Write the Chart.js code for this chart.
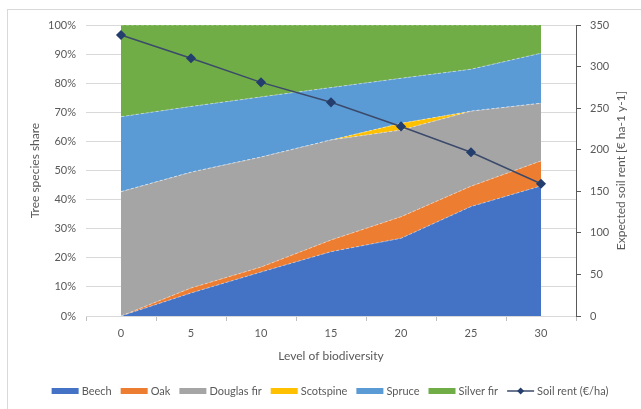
<!DOCTYPE html>
<html lang="en">
<head>
<meta charset="UTF-8">
<title>Tree species share and soil rent</title>
<script src="https://cdn.jsdelivr.net/npm/chart.js"></script>
<style>
    body { margin: 0; background: #fff; }
    canvas { display: block; }
</style>
</head>
<body>
<canvas id="chart" width="641" height="409"></canvas>
<script>
const levels = ['0', '5', '10', '15', '20', '25', '30'];
const beech = [0, 7.9, 15.1, 22.1, 26.7, 37.6, 44.7];
const oak = [0, 1.7, 1.7, 4.0, 7.4, 7.0, 8.6];
const douglasFir = [42.7, 39.8, 37.8, 34.4, 29.8, 25.8, 19.8];
const scotsPine = [0, 0, 0, 0, 2.3, 0, 0];
const spruce = [25.8, 22.6, 20.7, 18.0, 15.5, 14.4, 17.2];
const silverFir = [31.5, 28.0, 24.7, 21.5, 18.3, 15.2, 9.7];
const soilRent = [338, 310, 281, 257, 228, 197, 159];

const textColor = '#595959';
const fontFamily = 'Lato, "Liberation Sans", sans-serif';

function area(label, data, color, first) {
    return {
        label: label,
        data: data,
        backgroundColor: color,
        borderColor: 'rgba(255,255,255,0.55)',
        borderWidth: 0.8,
        borderDash: [3, 2],
        pointRadius: 0,
        tension: 0,
        fill: first ? 'origin' : '-1',
        yAxisID: 'y',
        order: 1
    };
}

// frame, right axis title and legend like the excel original
const extras = {
    id: 'extras',
    beforeDraw(chart) {
        const ctx = chart.ctx;
        ctx.save();
        ctx.fillStyle = '#fff';
        ctx.fillRect(0, 0, chart.width, chart.height);
        ctx.strokeStyle = '#d9d9d9';
        ctx.lineWidth = 1;
        ctx.strokeRect(7.5, 9.5, 700, 500);
        ctx.restore();
    },
    afterDraw(chart) {
        const ctx = chart.ctx;
        ctx.save();
        ctx.fillStyle = textColor;
        ctx.font = '12px ' + fontFamily;
        ctx.textAlign = 'center';
        ctx.textBaseline = 'middle';
        const a = chart.chartArea;
        ctx.translate(621, (a.top + a.bottom) / 2);
        ctx.rotate(-Math.PI / 2);
        ctx.fillText('Expected soil rent [€ ha-1 y-1]', 0, 0);
        ctx.restore();

        // legend
        ctx.save();
        ctx.font = '11px ' + fontFamily;
        ctx.textBaseline = 'middle';
        ctx.textAlign = 'left';
        const boxW = 27, textGap = 3, gap = 9;
        const items = chart.data.datasets.map(ds => ({
            ds: ds,
            w: boxW + textGap + ctx.measureText(ds.label).width
        }));
        const total = items.reduce((s, it) => s + it.w, 0) + gap * (items.length - 1);
        let x = 330 - total / 2;
        const y = 391;
        items.forEach(it => {
            const ds = it.ds;
            if (ds.yAxisID === 'y1') {
                ctx.strokeStyle = ds.borderColor;
                ctx.lineWidth = 1.5;
                ctx.beginPath();
                ctx.moveTo(x, y);
                ctx.lineTo(x + boxW, y);
                ctx.stroke();
                ctx.fillStyle = ds.pointBackgroundColor;
                const cx = x + boxW / 2;
                ctx.beginPath();
                ctx.moveTo(cx, y - 3.5);
                ctx.lineTo(cx + 3.5, y);
                ctx.lineTo(cx, y + 3.5);
                ctx.lineTo(cx - 3.5, y);
                ctx.closePath();
                ctx.fill();
            } else {
                ctx.fillStyle = ds.backgroundColor;
                ctx.fillRect(x, y - 3, boxW, 6);
            }
            ctx.fillStyle = textColor;
            ctx.fillText(ds.label, x + boxW + textGap, y + 0.5);
            x += it.w + gap;
        });
        ctx.restore();
    }
};

new Chart(document.getElementById('chart'), {
    type: 'line',
    data: {
        labels: levels,
        datasets: [
            area('Beech', beech, '#4472c4', true),
            area('Oak', oak, '#ed7d31'),
            area('Douglas fir', douglasFir, '#a5a5a5'),
            area('Scotspine', scotsPine, '#ffc000'),
            area('Spruce', spruce, '#5b9bd5'),
            area('Silver fir', silverFir, '#70ad47'),
            {
                label: 'Soil rent (€/ha)',
                data: soilRent,
                yAxisID: 'y1',
                borderColor: '#3b4a6b',
                borderWidth: 1.5,
                pointStyle: 'rectRot',
                pointRadius: 4,
                pointBackgroundColor: '#243f6e',
                pointBorderColor: '#243f6e',
                fill: false,
                tension: 0,
                order: 0
            }
        ]
    },
    options: {
        responsive: false,
        animation: false,
        devicePixelRatio: 1,
        layout: { padding: { top: 25, bottom: 41, left: 0, right: 0 } },
        plugins: {
            legend: { display: false },
            tooltip: { enabled: false }
        },
        scales: {
            x: {
                offset: true,
                grid: { offset: true, drawOnChartArea: false, tickLength: 5, tickColor: '#bfbfbf' },
                border: { color: '#d9d9d9' },
                ticks: { color: textColor, font: { family: fontFamily, size: 11 }, padding: 6, maxRotation: 0 },
                title: {
                    display: true, text: 'Level of biodiversity', color: textColor,
                    font: { family: fontFamily, size: 12 }, padding: { top: 0, bottom: 5 }
                },
                afterFit: s => { s.height = 52; }
            },
            y: {
                stacked: true,
                min: 0,
                max: 100,
                ticks: { stepSize: 10, callback: v => v + '%', color: textColor, font: { family: fontFamily, size: 11 }, padding: 10 },
                grid: { color: '#d9d9d9', drawTicks: false },
                border: { display: false },
                title: {
                    display: true, text: 'Tree species share', color: textColor,
                    font: { family: fontFamily, size: 12 }, padding: { top: 28, bottom: 0 }
                },
                afterFit: s => { s.width = 86; }
            },
            y1: {
                position: 'right',
                min: 0,
                max: 350,
                ticks: { stepSize: 50, color: textColor, font: { family: fontFamily, size: 11 }, padding: 9 },
                grid: { drawOnChartArea: false, tickLength: 5, tickColor: '#595959' },
                border: { color: '#595959' },
                afterFit: s => { s.width = 65; }
            }
        }
    },
    plugins: [extras]
});
</script>
</body>
</html>
